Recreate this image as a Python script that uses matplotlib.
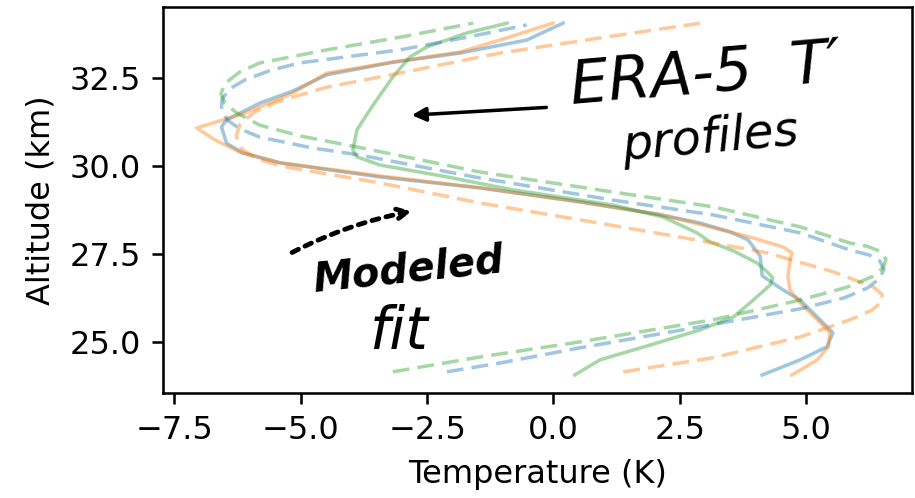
import matplotlib
matplotlib.use('Agg')
import matplotlib.pyplot as plt

# ERA-5 T' profiles (temperature K, altitude km)
era_blue_t = [4.13, 4.88, 5.41, 5.53, 5.22, 4.88, 4.54, 4.13, 4.09, 3.85, 3.49, 2.90, 2.10,
              0.52, -1.46, -3.44, -5.41, -6.15, -6.47, -6.57, -6.47, -5.81, -5.16, -4.49,
              -3.18, -1.85, -0.53, 0.19]
era_blue_z = [24.06, 24.49, 24.86, 25.26, 25.71, 26.19, 26.48, 26.88, 27.44, 27.90, 28.13, 28.38, 28.62,
              28.98, 29.38, 29.69, 30.09, 30.37, 30.65, 31.11, 31.31, 31.79, 32.13, 32.59,
              32.95, 33.21, 33.58, 34.06]

era_orange_t = [4.72, 5.22, 5.44, 5.47, 5.22, 4.88, 4.68, 4.64, 4.68, 4.72, 4.54, 3.89, 2.90, 2.10,
                0.52, -1.46, -3.44, -5.41, -6.21, -6.70, -7.06, -6.61, -6.15, -5.16, -4.49,
                -3.18, -1.85, -1.06, -0.01]
era_orange_z = [24.06, 24.49, 24.86, 25.26, 25.63, 26.11, 26.48, 26.85, 27.33, 27.53, 27.70, 27.98, 28.34, 28.62,
                28.98, 29.38, 29.72, 30.09, 30.40, 30.74, 31.08, 31.28, 31.48, 32.07, 32.64,
                32.95, 33.24, 33.58, 34.06]

era_green_t = [0.42, 0.92, 1.91, 2.90, 3.56, 3.89, 4.29, 4.34, 4.23, 4.03, 3.56, 3.10, 2.84, 2.17,
               1.18, -0.80, -2.11, -3.44, -3.89, -3.97, -3.89, -3.79, -3.57, -3.18, -2.84,
               -2.51, -1.72, -0.92]
era_green_z = [24.06, 24.49, 24.91, 25.34, 25.71, 26.11, 26.62, 26.82, 26.99, 27.24, 27.59, 27.84, 28.10, 28.55,
               28.89, 29.32, 29.69, 30.03, 30.26, 30.45, 31.02, 31.25, 31.73, 32.53, 33.10,
               33.38, 33.78, 34.06]

# modeled fits
fit_blue_t = [-2.11, -1.06, 0.52, 2.90, 4.88, 5.75, 6.21, 6.45, 6.54, 6.46, 6.25, 5.87, 4.88, 3.16, 1.18,
              -1.46, -3.83, -4.76, -5.81, -6.20, -6.45, -6.57, -6.56, -6.40, -6.10, -5.60, -5.02,
              -3.04, -1.71, -0.53]
fit_blue_z = [24.15, 24.40, 24.83, 25.43, 25.94, 26.25, 26.53, 26.80, 27.05, 27.30, 27.47, 27.61, 28.10, 28.61, 29.03,
              29.66, 30.31, 30.51, 30.82, 31.05, 31.30, 31.60, 31.90, 32.20, 32.45, 32.72, 32.93,
              33.30, 33.66, 34.01]

fit_orange_t = [1.38, 3.16, 4.88, 5.87, 6.30, 6.50, 6.50, 6.33, 5.54, 4.23, 2.50, 0.52, -1.46, -3.44,
                -5.41, -5.91, -6.18, -6.28, -6.20, -5.90, -5.48, -4.49, -3.04, -1.06, 0.92, 2.90]
fit_orange_z = [24.15, 24.55, 25.14, 25.63, 25.90, 26.15, 26.35, 26.56, 26.99, 27.53, 27.98, 28.47, 28.95, 29.52,
                30.00, 30.23, 30.50, 30.85, 31.20, 31.55, 31.82, 32.24, 32.64, 33.21, 33.64, 34.06]

fit_green_t = [-3.18, -1.46, 0.52, 3.16, 4.88, 5.80, 6.30, 6.52, 6.58, 6.46, 6.20, 5.87, 4.88, 3.16, 1.18,
               -1.46, -3.78, -5.00, -5.81, -6.27, -6.50, -6.58, -6.50, -6.20, -5.81, -4.49, -3.04, -1.59]
fit_green_z = [24.15, 24.57, 25.00, 25.63, 26.19, 26.55, 26.85, 27.10, 27.35, 27.58, 27.72, 27.81, 28.27, 28.84, 29.26,
               29.83, 30.51, 30.85, 31.16, 31.51, 31.78, 32.05, 32.35, 32.68, 32.93, 33.30, 33.66, 34.06]

xticks = [-7.5, -5.0, -2.5, 0.0, 2.5, 5.0]
yticks = [25.0, 27.5, 30.0, 32.5]


def main():
    fig = plt.figure(figsize=(915 / 230, 498 / 230), dpi=230)
    ax = fig.add_axes([0.178, 0.211, 0.819, 0.775])

    a = 0.42
    lw = 1.1
    dash = (0, (4.8, 2.3))
    ax.plot(era_blue_t, era_blue_z, color='C0', alpha=a, lw=lw)
    ax.plot(era_orange_t, era_orange_z, color='C1', alpha=a, lw=lw)
    ax.plot(era_green_t, era_green_z, color='C2', alpha=a, lw=lw)
    ax.plot(fit_blue_t, fit_blue_z, ls=dash, color='C0', alpha=a, lw=lw)
    ax.plot(fit_orange_t, fit_orange_z, ls=dash, color='C1', alpha=a, lw=lw)
    ax.plot(fit_green_t, fit_green_z, ls=dash, color='C2', alpha=a, lw=lw)

    ax.set_xlim(-7.73, 7.10)
    ax.set_ylim(23.55, 34.52)
    ax.set_xticks(xticks)
    ax.set_yticks(yticks)
    ax.set_xlabel('Temperature (K)')
    ax.set_ylabel('Altitude (km)')

    # hand-drawn style notes
    hand = dict(color='black', style='italic', ha='center', va='center')
    fig.text(0.772, 0.848, 'ERA-5  T\u2032', fontsize=19, rotation=5, **hand)
    fig.text(0.776, 0.722, 'profiles', fontsize=15, rotation=5, **hand)
    fig.text(0.446, 0.456, 'Modeled', fontsize=12.5, rotation=6, weight='bold', **hand)
    fig.text(0.435, 0.333, 'fit', fontsize=18, **hand)

    ax.annotate('', xy=(0.443, 0.768), xytext=(0.604, 0.785),
                xycoords='figure fraction', textcoords='figure fraction',
                arrowprops=dict(arrowstyle='-|>', color='black', lw=1.1,
                                mutation_scale=9))
    ax.annotate('', xy=(0.457, 0.578), xytext=(0.313, 0.487),
                xycoords='figure fraction', textcoords='figure fraction',
                arrowprops=dict(arrowstyle='->', color='black', lw=1.5, ls=(0, (1.5, 1.5)),
                                connectionstyle='arc3,rad=-0.08', mutation_scale=8))

    fig.savefig('out.png', dpi=230)


if __name__ == '__main__':
    main()
